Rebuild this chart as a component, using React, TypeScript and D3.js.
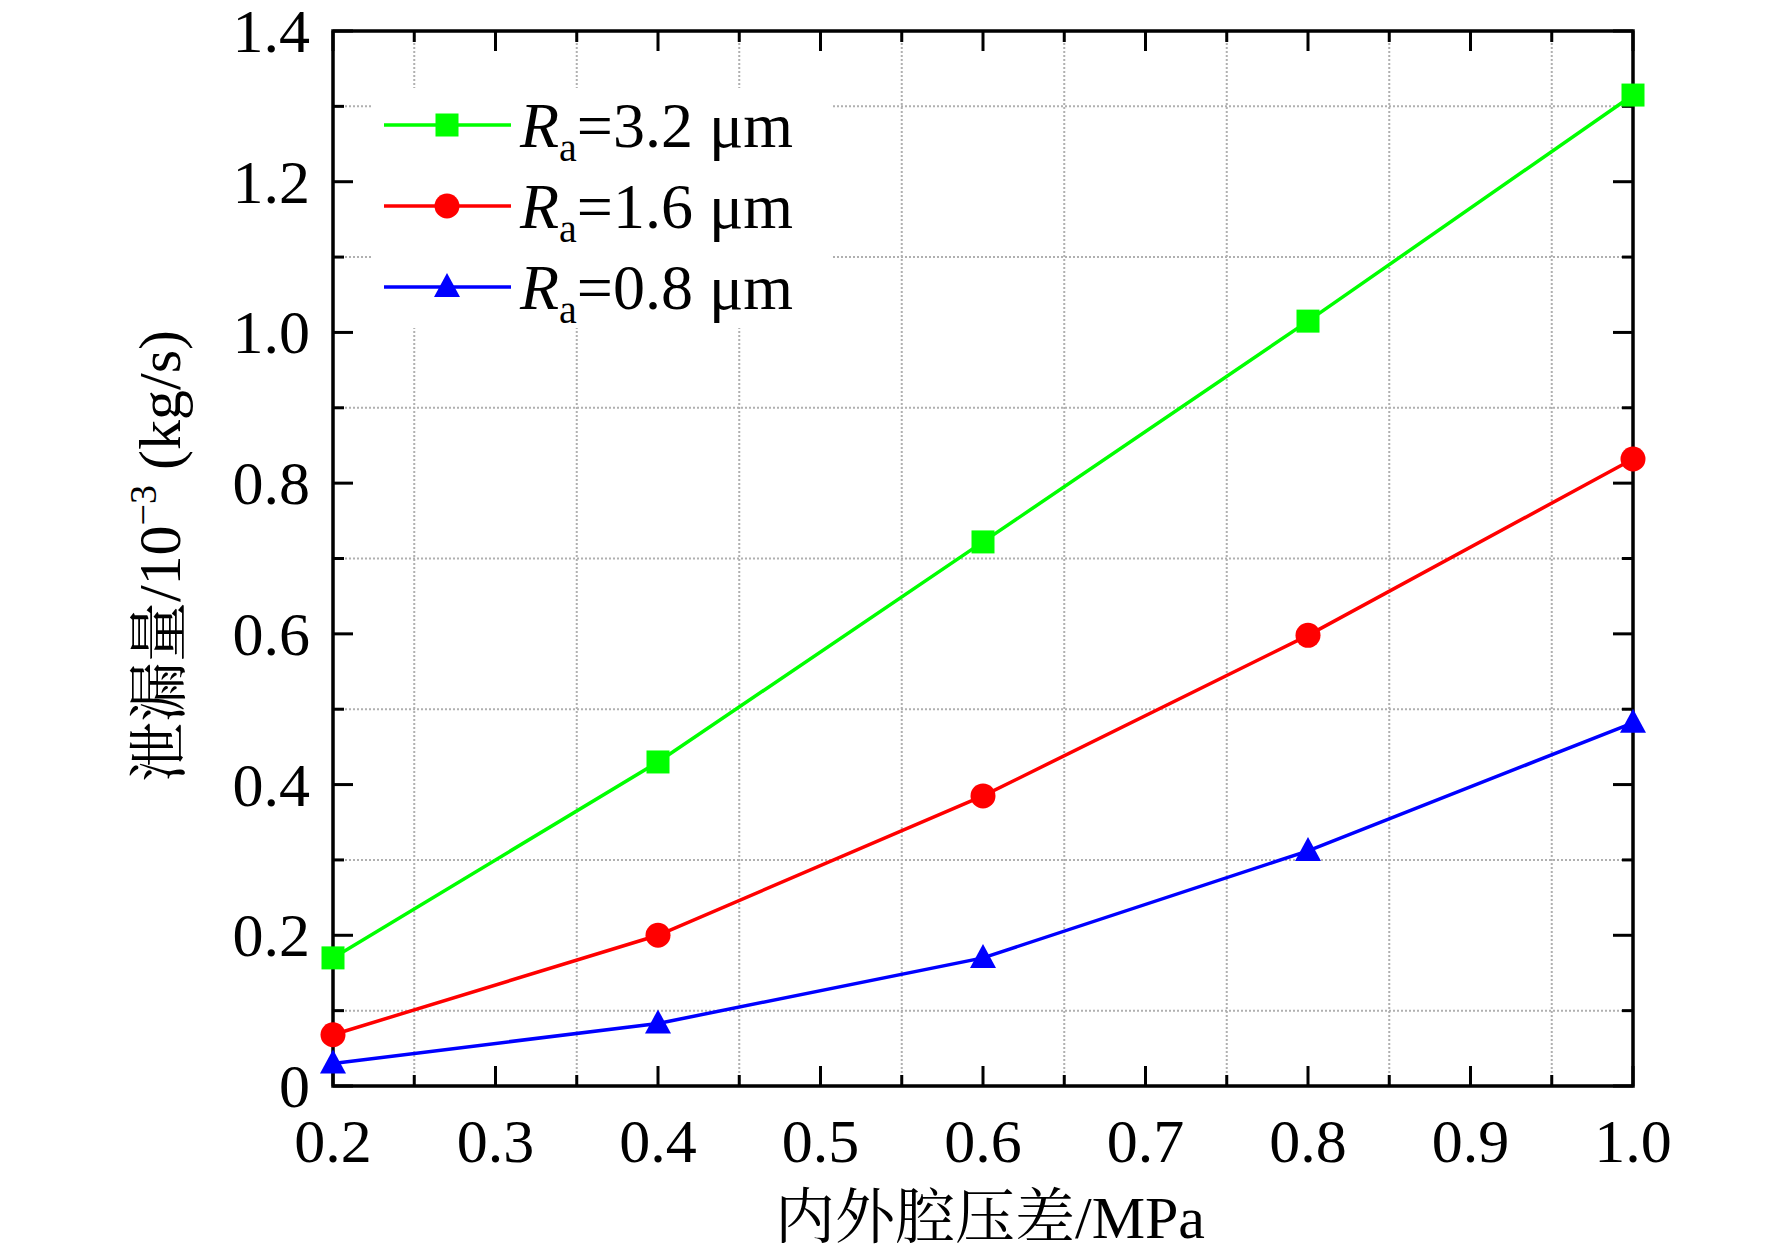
import * as d3 from "d3";

const xValues = [0.2, 0.4, 0.6, 0.8, 1.0];
const seriesGreen = [0.17, 0.43, 0.722, 1.015, 1.315];
const seriesRed = [0.068, 0.2, 0.385, 0.598, 0.832];
const seriesBlue = [0.03, 0.083, 0.17, 0.312, 0.482];
const legendLabels = ["3.2 μm", "1.6 μm", "0.8 μm"];
const xTickLabels = ["0.2", "0.3", "0.4", "0.5", "0.6", "0.7", "0.8", "0.9", "1.0"];
const yTickLabels = ["0", "0.2", "0.4", "0.6", "0.8", "1.0", "1.2", "1.4"];

const W = 1772;
const H = 1258;
const M = { left: 333, right: 1633, top: 31, bottom: 1086 };
const FONT = "'Liberation Serif', 'Times New Roman', serif";
const CJK = "'Noto Serif CJK SC', 'Noto Sans CJK SC', serif";

const series = [
  { values: seriesGreen, color: "#00ff00", shape: "square" },
  { values: seriesRed, color: "#ff0000", shape: "circle" },
  { values: seriesBlue, color: "#0000ff", shape: "triangle" },
];

const Marker = ({ x, y, shape, color }: { x: number; y: number; shape: string; color: string }) => {
  if (shape === "square") return <rect x={x - 11.5} y={y - 11.5} width={23} height={23} fill={color} />;
  if (shape === "circle") return <circle cx={x} cy={y} r={12.5} fill={color} />;
  return <path d={`M${x},${y - 14}L${x + 13},${y + 10}L${x - 13},${y + 10}Z`} fill={color} />;
};

export default function App() {
  const x = d3.scaleLinear().domain([0.2, 1.0]).range([M.left, M.right]);
  const y = d3.scaleLinear().domain([0, 1.4]).range([M.bottom, M.top]);
  const xMajor = d3.range(0.2, 1.0001, 0.1);
  const xMinor = d3.range(0.25, 1.0, 0.1);
  const yMajor = d3.range(0, 1.4001, 0.2);
  const yMinor = d3.range(0.1, 1.4, 0.2);
  const line = d3
    .line<number>()
    .x((_, i) => x(xValues[i]))
    .y((d) => y(d));

  return (
    <svg width={W} height={H} style={{ position: "absolute", left: 0, top: 0, background: "#fff" }}>
      {/* grid */}
      {xMinor.map((v, i) => (
        <line key={"gx" + i} x1={x(v)} x2={x(v)} y1={M.top} y2={M.bottom} stroke="#b0b0b0" strokeWidth={2} strokeDasharray="2,2" />
      ))}
      {yMinor.map((v, i) => (
        <line key={"gy" + i} x1={M.left} x2={M.right} y1={y(v)} y2={y(v)} stroke="#b0b0b0" strokeWidth={2} strokeDasharray="2,2" />
      ))}
      {/* legend background cover */}
      <rect x={372} y={88} width={460} height={240} fill="#fff" />
      {/* ticks */}
      {xMajor.map((v, i) => (
        <g key={"tx" + i}>
          <line x1={x(v)} x2={x(v)} y1={M.bottom} y2={M.bottom - 20} stroke="#000" strokeWidth={3} />
          <line x1={x(v)} x2={x(v)} y1={M.top} y2={M.top + 20} stroke="#000" strokeWidth={3} />
          <text x={x(v)} y={1162} textAnchor="middle" fontFamily={FONT} fontSize={62}>{xTickLabels[i]}</text>
        </g>
      ))}
      {xMinor.map((v, i) => (
        <g key={"mx" + i}>
          <line x1={x(v)} x2={x(v)} y1={M.bottom} y2={M.bottom - 11} stroke="#000" strokeWidth={3} />
          <line x1={x(v)} x2={x(v)} y1={M.top} y2={M.top + 11} stroke="#000" strokeWidth={3} />
        </g>
      ))}
      {yMajor.map((v, i) => (
        <g key={"ty" + i}>
          <line x1={M.left} x2={M.left + 20} y1={y(v)} y2={y(v)} stroke="#000" strokeWidth={3} />
          <line x1={M.right} x2={M.right - 20} y1={y(v)} y2={y(v)} stroke="#000" strokeWidth={3} />
          <text x={310} y={y(v) + 21} textAnchor="end" fontFamily={FONT} fontSize={62}>{yTickLabels[i]}</text>
        </g>
      ))}
      {yMinor.map((v, i) => (
        <g key={"my" + i}>
          <line x1={M.left} x2={M.left + 11} y1={y(v)} y2={y(v)} stroke="#000" strokeWidth={3} />
          <line x1={M.right} x2={M.right - 11} y1={y(v)} y2={y(v)} stroke="#000" strokeWidth={3} />
        </g>
      ))}
      <rect x={M.left} y={M.top} width={M.right - M.left} height={M.bottom - M.top} fill="none" stroke="#000" strokeWidth={3.5} />
      {/* series */}
      {series.map((s, si) => (
        <g key={"s" + si}>
          <path d={line(s.values) || ""} fill="none" stroke={s.color} strokeWidth={3.5} />
          {s.values.map((v, i) => (
            <Marker key={i} x={x(xValues[i])} y={y(v)} shape={s.shape} color={s.color} />
          ))}
        </g>
      ))}
      {/* legend */}
      {series.map((s, i) => {
        const ly = 125 + i * 81;
        return (
          <g key={"l" + i}>
            <line x1={384} x2={511} y1={ly} y2={ly} stroke={s.color} strokeWidth={3.5} />
            <Marker x={447} y={ly} shape={s.shape} color={s.color} />
            <text x={520} y={ly + 22} fontFamily={FONT} fontSize={64}>
              <tspan fontStyle="italic">R</tspan>
              <tspan fontSize={40} dy={14}>a</tspan>
              <tspan dy={-14}>={legendLabels[i]}</tspan>
            </text>
          </g>
        );
      })}
      {/* axis titles */}
      <text x={990} y={1238} textAnchor="middle" fontFamily={FONT} fontSize={60}>
        <tspan fontFamily={CJK}>内外腔压差</tspan>/MPa
      </text>
      <text transform="translate(180,556) rotate(-90)" textAnchor="middle" fontFamily={FONT} fontSize={60}>
        <tspan fontFamily={CJK}>泄漏量</tspan>/10<tspan fontSize={38} dy={-24}>−3</tspan>
        <tspan dy={24}> (kg/s)</tspan>
      </text>
    </svg>
  );
}
